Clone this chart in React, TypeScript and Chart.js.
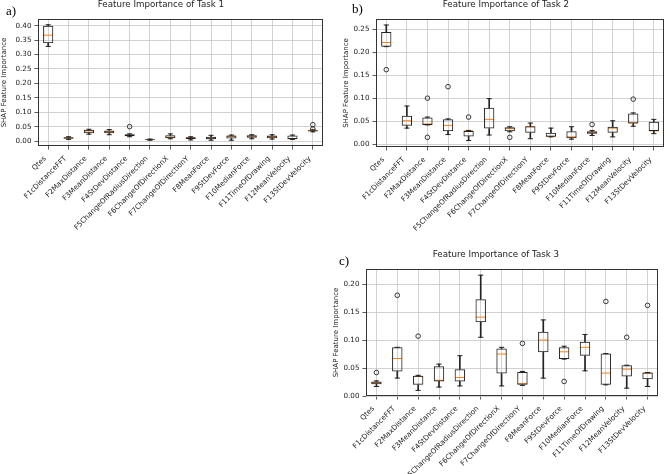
import React, { useEffect, useRef } from "react";
import { Chart, registerables } from "chart.js";

Chart.register(...registerables);

const categories = [
  "Qtes",
  "F1cDistanceFFT",
  "F2MaxDistance",
  "F3MeanDistance",
  "F4StDevDistance",
  "F5ChangeOfRadiusDirection",
  "F6ChangeOfDirectionX",
  "F7ChangeOfDirectionY",
  "F8MeanForce",
  "F9StDevForce",
  "F10MedianForce",
  "F11TimeOfDrawing",
  "F12MeanVelocity",
  "F13StDevVelocity",
];

// Task 1
const task1Min = [0.328, 0.006, 0.024, 0.022, 0.015, 0.003, 0.008, 0.004, 0.003, 0.003, 0.008, 0.007, 0.006, 0.032];
const task1Q1 = [0.339, 0.008, 0.027, 0.027, 0.017, 0.004, 0.010, 0.007, 0.006, 0.009, 0.012, 0.010, 0.007, 0.033];
const task1Med = [0.367, 0.011, 0.035, 0.033, 0.020, 0.005, 0.013, 0.011, 0.010, 0.017, 0.017, 0.016, 0.008, 0.037];
const task1Q3 = [0.400, 0.013, 0.039, 0.037, 0.024, 0.006, 0.020, 0.013, 0.015, 0.019, 0.020, 0.019, 0.019, 0.038];
const task1Max = [0.403, 0.015, 0.041, 0.040, 0.025, 0.007, 0.025, 0.015, 0.020, 0.021, 0.022, 0.022, 0.021, 0.039];
const task1Outliers = [[], [], [], [], [0.050], [], [], [], [], [], [], [], [], [0.057, 0.042]];
const task1Ticks = [0, 0.05, 0.1, 0.15, 0.2, 0.25, 0.3, 0.35, 0.4];

// Task 2
const task2Min = [0.212, 0.035, 0.042, 0.021, 0.008, 0.020, 0.027, 0.012, 0.016, 0.011, 0.019, 0.016, 0.039, 0.023];
const task2Q1 = [0.212, 0.040, 0.042, 0.028, 0.017, 0.034, 0.028, 0.025, 0.016, 0.013, 0.023, 0.025, 0.045, 0.029];
const task2Med = [0.221, 0.051, 0.044, 0.041, 0.029, 0.054, 0.034, 0.038, 0.017, 0.016, 0.025, 0.035, 0.046, 0.029];
const task2Q3 = [0.244, 0.062, 0.058, 0.054, 0.029, 0.079, 0.037, 0.039, 0.025, 0.028, 0.028, 0.038, 0.067, 0.049];
const task2Max = [0.259, 0.083, 0.059, 0.055, 0.030, 0.099, 0.038, 0.046, 0.035, 0.038, 0.030, 0.051, 0.068, 0.054];
const task2Outliers = [[0.162], [], [0.100, 0.015], [0.125], [0.059], [], [0.015], [], [], [], [0.043], [], [0.098], []];
const task2Ticks = [0, 0.05, 0.1, 0.15, 0.2, 0.25];

// Task 3
const task3Min = [0.017, 0.032, 0.010, 0.016, 0.018, 0.105, 0.018, 0.019, 0.032, 0.066, 0.045, 0.020, 0.014, 0.017];
const task3Q1 = [0.021, 0.044, 0.020, 0.026, 0.026, 0.132, 0.040, 0.020, 0.078, 0.066, 0.072, 0.020, 0.035, 0.030];
const task3Med = [0.024, 0.067, 0.035, 0.028, 0.033, 0.141, 0.075, 0.022, 0.100, 0.079, 0.087, 0.041, 0.048, 0.041];
const task3Q3 = [0.026, 0.087, 0.036, 0.053, 0.048, 0.173, 0.085, 0.043, 0.115, 0.087, 0.097, 0.076, 0.055, 0.042];
const task3Max = [0.027, 0.087, 0.037, 0.057, 0.072, 0.216, 0.087, 0.044, 0.136, 0.089, 0.110, 0.076, 0.055, 0.042];
const task3Outliers = [[0.042], [0.180], [0.107], [], [], [], [], [0.094], [], [0.026], [], [0.169], [0.105], [0.162]];
const task3Ticks = [0, 0.05, 0.1, 0.15, 0.2];

const FONT = "'DejaVu Sans', sans-serif";
const GRID = "#c6c6c6";

const framePlugin = {
  id: "frame",
  afterDraw(chart: any) {
    const { ctx, chartArea } = chart;
    ctx.save();
    ctx.strokeStyle = "#333";
    ctx.lineWidth = 1;
    ctx.strokeRect(
      Math.round(chartArea.left) + 0.5,
      Math.round(chartArea.top) + 0.5,
      Math.round(chartArea.right - chartArea.left) - 1,
      Math.round(chartArea.bottom - chartArea.top) - 1
    );
    ctx.restore();
  },
};

type BoxProps = {
  w: number;
  h: number;
  mins: number[];
  q1s: number[];
  meds: number[];
  q3s: number[];
  maxs: number[];
  outliers: number[][];
  ticks: number[];
  yMin: number;
  yMax: number;
  yWidth: number;
  xHeight: number;
  padRight: number;
  titlePad: number;
};

function BoxChart(p: BoxProps) {
  const ref = useRef<HTMLCanvasElement | null>(null);
  useEffect(() => {
    if (!ref.current) return;
    const catW = (ctx: any) => {
      const x = ctx.chart.scales.x;
      return x ? x.width / categories.length : 20;
    };
    const outlierPts: any[] = [];
    p.outliers.forEach((arr, i) => arr.forEach((v) => outlierPts.push({ x: categories[i], y: v })));
    const capPts: any[] = [];
    categories.forEach((c, i) => {
      capPts.push({ x: c, y: p.mins[i] });
      capPts.push({ x: c, y: p.maxs[i] });
    });
    const chart = new Chart(ref.current, {
      type: "bar",
      data: {
        labels: categories,
        datasets: [
          {
            type: "bar",
            data: categories.map((_, i) => [p.mins[i], p.q1s[i]]),
            backgroundColor: "#222",
            borderWidth: 0,
            barThickness: 1,
            grouped: false,
          } as any,
          {
            type: "bar",
            data: categories.map((_, i) => [p.q3s[i], p.maxs[i]]),
            backgroundColor: "#222",
            borderWidth: 0,
            barThickness: 1,
            grouped: false,
          } as any,
          {
            type: "bar",
            data: categories.map((_, i) => [p.q1s[i], p.q3s[i]]),
            backgroundColor: "rgba(255,255,255,0)",
            borderColor: "#222",
            borderWidth: 1,
            borderSkipped: false,
            categoryPercentage: 1,
            barPercentage: 0.5,
            grouped: false,
          } as any,
          {
            type: "line",
            data: capPts,
            showLine: false,
            pointStyle: "line",
            pointRadius: (ctx: any) => catW(ctx) * 0.125,
            pointBorderColor: "#222",
            pointBorderWidth: 1,
          } as any,
          {
            type: "line",
            data: categories.map((c, i) => ({ x: c, y: p.meds[i] })),
            showLine: false,
            pointStyle: "line",
            pointRadius: (ctx: any) => catW(ctx) * 0.25 - 0.5,
            pointBorderColor: "#ff7f0e",
            pointBorderWidth: 1,
          } as any,
          {
            type: "line",
            data: outlierPts,
            showLine: false,
            pointStyle: "circle",
            pointRadius: 2.3,
            pointBackgroundColor: "rgba(0,0,0,0)",
            pointBorderColor: "#222",
            pointBorderWidth: 0.9,
          } as any,
        ],
      },
      options: {
        animation: false,
        responsive: false,
        maintainAspectRatio: false,
        events: [],
        layout: { padding: { top: 19, right: p.padRight, left: 0, bottom: 0 } },
        plugins: { legend: { display: false }, tooltip: { enabled: false }, title: { display: false } },
        scales: {
          x: {
            type: "category",
            offset: true,
            grid: { offset: false, color: GRID, lineWidth: 0.8, tickLength: 3.5, tickColor: "#333" },
            border: { display: false },
            ticks: {
              autoSkip: false,
              minRotation: 45,
              maxRotation: 45,
              padding: 5,
              labelOffset: -3,
              color: "#222",
              font: { family: FONT, size: 7.2 },
            },
            afterFit: (s: any) => {
              s.height = p.xHeight;
            },
          },
          y: {
            type: "linear",
            min: p.yMin,
            max: p.yMax,
            grid: { color: GRID, lineWidth: 0.8, tickLength: 3.5, tickColor: "#333" },
            border: { display: false },
            afterBuildTicks: (s: any) => {
              s.ticks = p.ticks.map((v) => ({ value: v }));
            },
            ticks: {
              padding: 3,
              color: "#222",
              font: { family: FONT, size: 7.2 },
              callback: (v: any) => Number(v).toFixed(2),
            },
            title: {
              display: true,
              text: "SHAP Feature Importance",
              color: "#222",
              font: { family: FONT, size: 7 },
              padding: { top: p.titlePad, bottom: 0 },
            },
            afterFit: (s: any) => {
              s.width = p.yWidth;
            },
          },
        },
      } as any,
      plugins: [framePlugin],
    });
    return () => chart.destroy();
  }, []);
  return <canvas ref={ref} width={p.w} height={p.h} style={{ width: p.w, height: p.h, display: "block" }} />;
}

const titleStyle: React.CSSProperties = {
  position: "absolute",
  fontFamily: FONT,
  fontSize: "8.7px",
  lineHeight: "11px",
  color: "#222",
  whiteSpace: "nowrap",
  transform: "translateX(-50%)",
};

const letterStyle: React.CSSProperties = {
  position: "absolute",
  fontFamily: "'Liberation Serif', 'Times New Roman', serif",
  fontSize: "13px",
  lineHeight: "13px",
  color: "#000",
  whiteSpace: "nowrap",
};

export default function App() {
  return (
    <div style={{ position: "absolute", left: 0, top: 0, width: 669, height: 474, background: "#fff", overflow: "hidden" }}>
      <div style={{ position: "absolute", left: 0, top: 0 }}>
        <BoxChart
          w={335}
          h={250}
          mins={task1Min}
          q1s={task1Q1}
          meds={task1Med}
          q3s={task1Q3}
          maxs={task1Max}
          outliers={task1Outliers}
          ticks={task1Ticks}
          yMin={-0.017}
          yMax={0.423}
          yWidth={38}
          xHeight={104}
          padRight={12}
          titlePad={0}
        />
      </div>
      <div style={{ position: "absolute", left: 340, top: 0 }}>
        <BoxChart
          w={329}
          h={250}
          mins={task2Min}
          q1s={task2Q1}
          meds={task2Med}
          q3s={task2Q3}
          maxs={task2Max}
          outliers={task2Outliers}
          ticks={task2Ticks}
          yMin={-0.006}
          yMax={0.272}
          yWidth={36}
          xHeight={103}
          padRight={1}
          titlePad={2}
        />
      </div>
      <div style={{ position: "absolute", left: 330, top: 250 }}>
        <BoxChart
          w={339}
          h={224}
          mins={task3Min}
          q1s={task3Q1}
          meds={task3Med}
          q3s={task3Q3}
          maxs={task3Max}
          outliers={task3Outliers}
          ticks={task3Ticks}
          yMin={0}
          yMax={0.227}
          yWidth={36}
          xHeight={78}
          padRight={11}
          titlePad={2}
        />
      </div>
      <div style={{ ...titleStyle, left: 161, top: -1 }}>Feature Importance of Task 1</div>
      <div style={{ ...titleStyle, left: 506, top: -1 }}>Feature Importance of Task 2</div>
      <div style={{ ...titleStyle, left: 496, top: 249 }}>Feature Importance of Task 3</div>
      <div style={{ ...letterStyle, left: 6, top: 4 }}>a)</div>
      <div style={{ ...letterStyle, left: 352, top: 2 }}>b)</div>
      <div style={{ ...letterStyle, left: 339, top: 254 }}>c)</div>
    </div>
  );
}
